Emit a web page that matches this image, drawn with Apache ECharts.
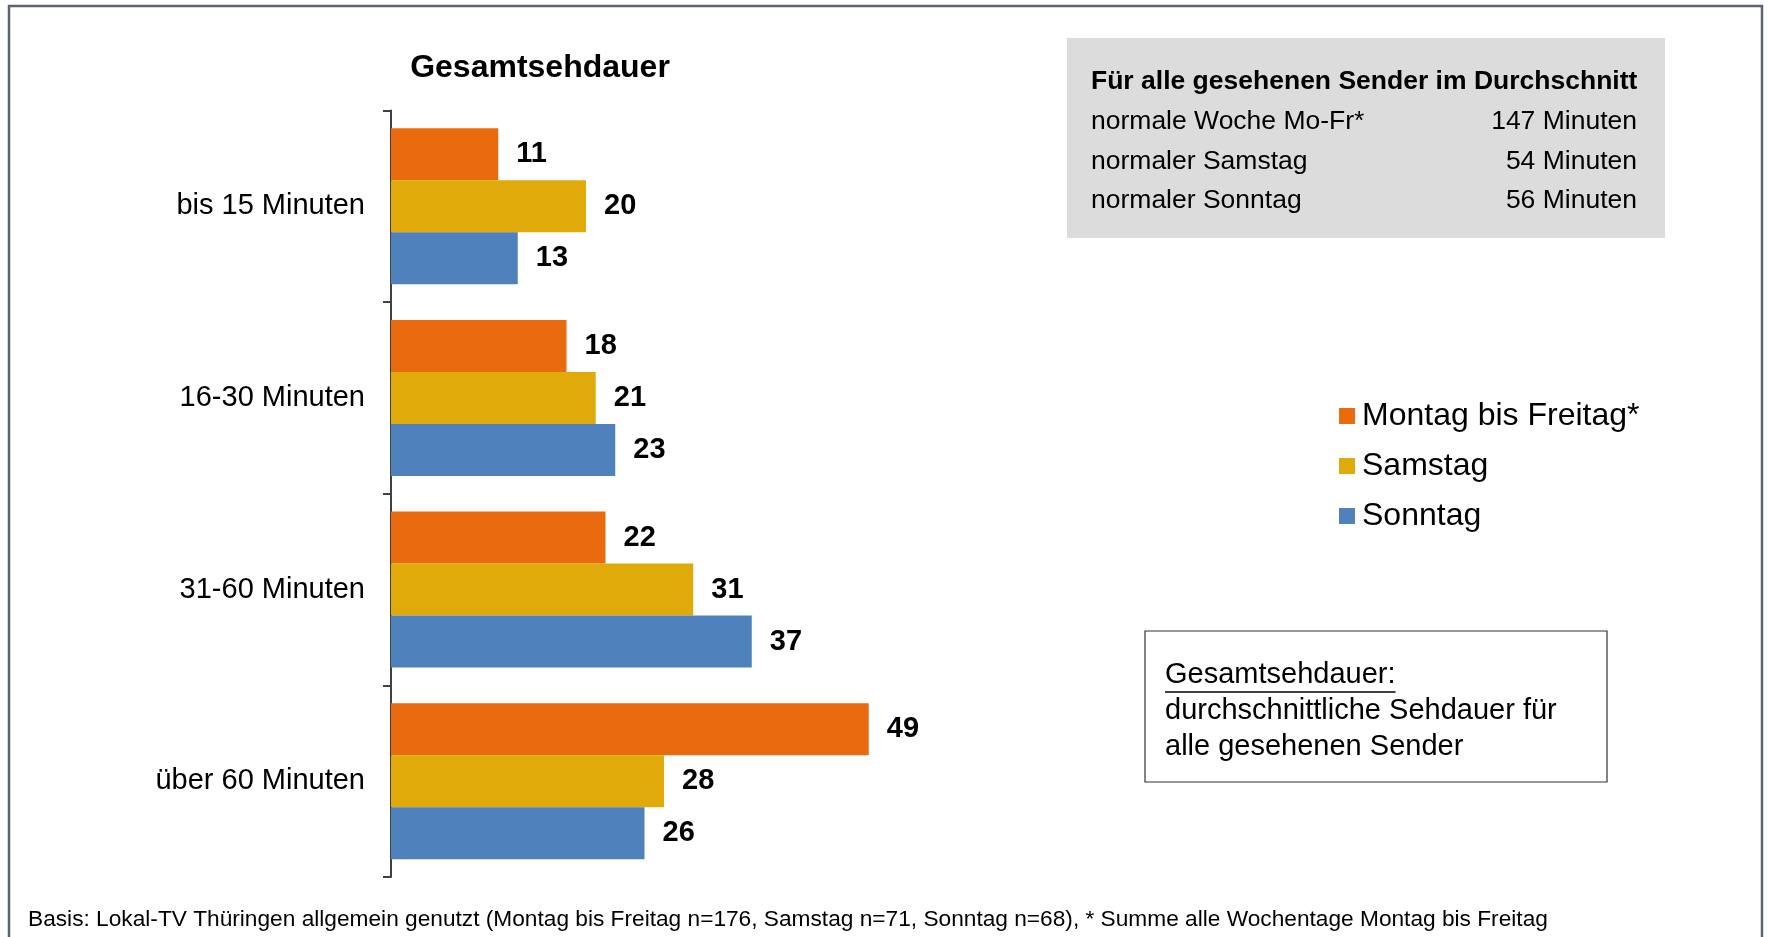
<!DOCTYPE html>
<html>
<head>
<meta charset="utf-8" />
<title>Gesamtsehdauer</title>
<script src="https://cdn.jsdelivr.net/npm/echarts@6/dist/echarts.min.js"></script>
<style>
  html, body { margin: 0; padding: 0; background: #fff; }
  #main { width: 1768px; height: 937px; }
</style>
</head>
<body>
<div id="main"></div>
<script type="text/javascript">
// Daten
var categories = ['bis 15 Minuten', '16-30 Minuten', '31-60 Minuten', 'über 60 Minuten'];
var seriesNames = ['Montag bis Freitag*', 'Samstag', 'Sonntag'];
var moFr = [11, 18, 22, 49];
var samstag = [20, 21, 31, 28];
var sonntag = [13, 23, 37, 26];
var colors = ['#EA6B0D', '#E1AA0B', '#4F81BD'];

// Info-Kasten
var infoTitle = 'Für alle gesehenen Sender im Durchschnitt';
var infoRows = ['normale Woche Mo-Fr*', 'normaler Samstag', 'normaler Sonntag'];
var infoValues = ['147 Minuten', '54 Minuten', '56 Minuten'];
var footnote = 'Basis: Lokal-TV Thüringen allgemein genutzt (Montag bis Freitag n=176, Samstag n=71, Sonntag n=68), * Summe alle Wochentage Montag bis Freitag';

var FONT = 'Liberation Sans, Arial, sans-serif';
var myChart = echarts.init(document.getElementById('main'));

// Breite des unterstrichenen Wortes messen
var ctx = document.createElement('canvas').getContext('2d');
ctx.font = '29px ' + FONT;
var underlineW = ctx.measureText('Gesamtsehdauer:').width;

var values = [moFr, samstag, sonntag];
var series = [];
values.forEach(function (v, i) {
    series.push({
        name: seriesNames[i],
        type: 'bar',
        data: v,
        barGap: 0,
        barCategoryGap: '18.6%',
        itemStyle: { color: colors[i] },
        label: {
            show: true,
            position: 'right',
            distance: 18,
            color: '#000',
            fontFamily: FONT,
            fontWeight: 'bold',
            fontSize: 29
        }
    });
});

var graphics = [
    // Rahmen
    { type: 'rect', shape: { x: 9, y: 6, width: 1753, height: 1000 }, style: { fill: 'none', stroke: '#5b6470', lineWidth: 2.5 }, silent: true },
    // Titel
    { type: 'text', x: 540, y: 68, style: { text: 'Gesamtsehdauer', fontFamily: FONT, fontWeight: 'bold', fontSize: 32, fill: '#000', align: 'center', verticalAlign: 'middle' } },
    // grauer Kasten
    { type: 'rect', shape: { x: 1067, y: 38, width: 598, height: 200 }, style: { fill: '#dcdcdc' } },
    { type: 'text', x: 1091, y: 82, style: { text: infoTitle, fontFamily: FONT, fontWeight: 'bold', fontSize: 26.5, fill: '#000', verticalAlign: 'middle' } },
    // Hinweis-Kasten
    { type: 'rect', shape: { x: 1145, y: 631, width: 462, height: 151 }, style: { fill: '#fff', stroke: '#333', lineWidth: 1.2 } },
    { type: 'text', x: 1165, y: 675, style: { text: 'Gesamtsehdauer:', fontFamily: FONT, fontSize: 29, fill: '#000', verticalAlign: 'middle' } },
    { type: 'line', shape: { x1: 1165, y1: 692, x2: 1165 + underlineW, y2: 692 }, style: { stroke: '#000', lineWidth: 1.5 } },
    { type: 'text', x: 1165, y: 711, style: { text: 'durchschnittliche Sehdauer für', fontFamily: FONT, fontSize: 29, fill: '#000', verticalAlign: 'middle' } },
    { type: 'text', x: 1165, y: 747, style: { text: 'alle gesehenen Sender', fontFamily: FONT, fontSize: 29, fill: '#000', verticalAlign: 'middle' } },
    // Fußnote
    { type: 'text', x: 28, y: 920, style: { text: footnote, fontFamily: FONT, fontSize: 22.7, fill: '#000', verticalAlign: 'middle' } }
];
infoRows.forEach(function (r, i) {
    graphics.push({ type: 'text', x: 1091, y: 122 + i * 39.5, style: { text: r, fontFamily: FONT, fontSize: 26.5, fill: '#000', verticalAlign: 'middle' } });
    graphics.push({ type: 'text', x: 1637, y: 122 + i * 39.5, style: { text: infoValues[i], fontFamily: FONT, fontSize: 26.5, fill: '#000', align: 'right', verticalAlign: 'middle' } });
});

var option = {
    animation: false,
    backgroundColor: '#fff',
    color: colors,
    grid: { left: 391, top: 110.5, width: 975, height: 766.5, containLabel: false },
    legend: {
        orient: 'vertical',
        left: 1334,
        top: 394,
        itemWidth: 16,
        itemHeight: 16,
        itemGap: 16,
        icon: 'rect',
        data: seriesNames,
        textStyle: { fontFamily: FONT, fontSize: 32, color: '#000', lineHeight: 34, padding: [0, 0, 0, 2] }
    },
    xAxis: { type: 'value', min: 0, max: 100, show: false },
    yAxis: {
        type: 'category',
        inverse: true,
        data: categories,
        axisLine: { lineStyle: { color: '#404040', width: 2 } },
        axisTick: { show: true, length: 8, lineStyle: { color: '#404040', width: 2 } },
        axisLabel: { margin: 26, color: '#000', fontFamily: FONT, fontSize: 29 }
    },
    series: series,
    graphic: graphics
};
myChart.setOption(option);
</script>
</body>
</html>
